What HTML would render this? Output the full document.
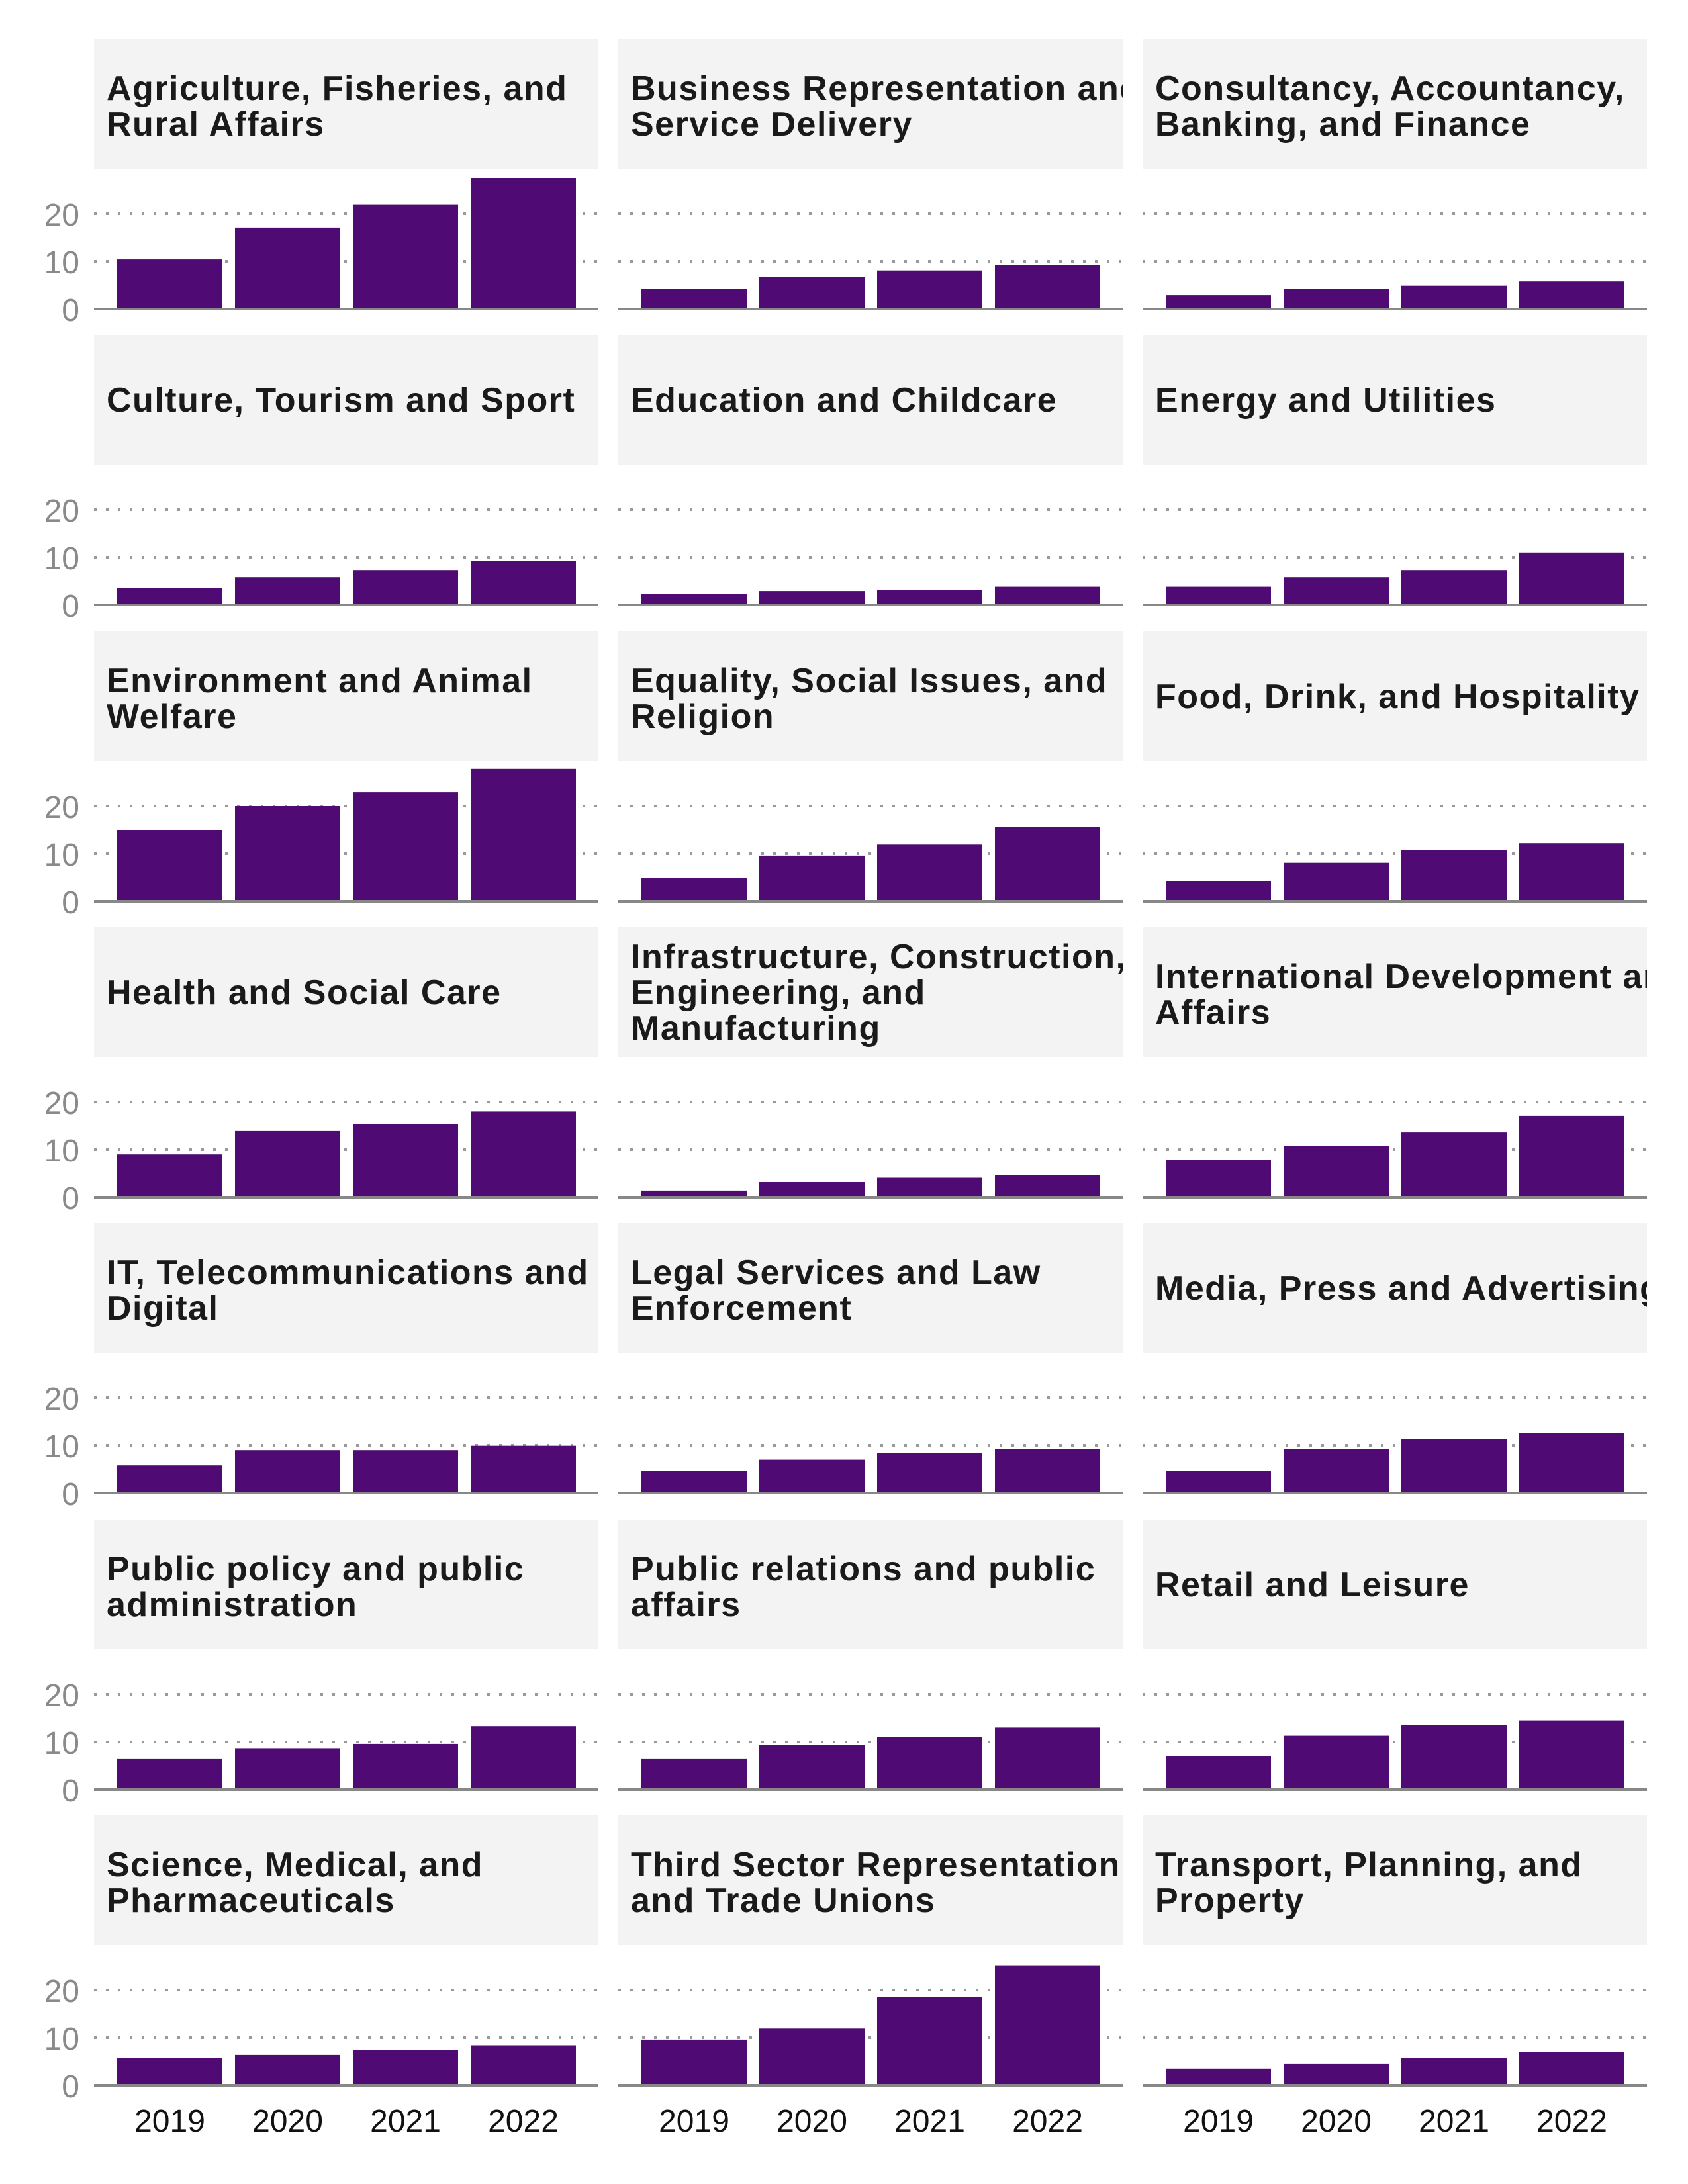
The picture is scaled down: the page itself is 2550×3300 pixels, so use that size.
<!DOCTYPE html>
<html><head><meta charset="utf-8"><style>
html,body{margin:0;padding:0;background:#fff}
svg{display:block}
.t{font-family:"Liberation Sans",sans-serif;font-weight:bold;font-size:52px;letter-spacing:1.5px;fill:#1a1a1a}
.y{font-family:"Liberation Sans",sans-serif;font-size:48px;fill:#8a8a8a;text-anchor:end}
.x{font-family:"Liberation Sans",sans-serif;font-size:48px;fill:#111;text-anchor:middle}
.s{fill:#f3f3f3}
.g{stroke:#999;stroke-width:4;stroke-dasharray:4 14}
.a{stroke:#888;stroke-width:4}
.b{fill:#500a73}
</style></head><body>
<svg width="2550" height="3300" viewBox="0 0 2550 3300" xmlns="http://www.w3.org/2000/svg">
<defs><clipPath id="c"><rect x="0" y="0" width="762" height="196"/></clipPath></defs>

<!-- Row 1 -->
<g transform="translate(142,59)">
<rect class="s" width="762" height="196"/>
<g clip-path="url(#c)"><text class="t" x="19" y="92">Agriculture, Fisheries, and</text><text class="t" x="19" y="146">Rural Affairs</text></g>
<line class="g" x1="0" x2="762" y1="264" y2="264"/><line class="g" x1="0" x2="762" y1="336" y2="336"/>
<rect class="b" x="35" width="159" y="333.1" height="74.9"/><rect class="b" x="213" width="159" y="284.9" height="123.1"/><rect class="b" x="391" width="159" y="249.6" height="158.4"/><rect class="b" x="569" width="159" y="210" height="198"/>
<line class="a" x1="0" x2="762" y1="408" y2="408"/>
<text class="y" x="-22" y="282">20</text><text class="y" x="-22" y="354">10</text><text class="y" x="-22" y="426">0</text>
</g>
<g transform="translate(934,59)">
<rect class="s" width="762" height="196"/>
<g clip-path="url(#c)"><text class="t" x="19" y="92">Business Representation and</text><text class="t" x="19" y="146">Service Delivery</text></g>
<line class="g" x1="0" x2="762" y1="264" y2="264"/><line class="g" x1="0" x2="762" y1="336" y2="336"/>
<rect class="b" x="35" width="159" y="377" height="31"/><rect class="b" x="213" width="159" y="359.8" height="48.2"/><rect class="b" x="391" width="159" y="349.7" height="58.3"/><rect class="b" x="569" width="159" y="341" height="67"/>
<line class="a" x1="0" x2="762" y1="408" y2="408"/>
</g>
<g transform="translate(1726,59)">
<rect class="s" width="762" height="196"/>
<g clip-path="url(#c)"><text class="t" x="19" y="92">Consultancy, Accountancy,</text><text class="t" x="19" y="146">Banking, and Finance</text></g>
<line class="g" x1="0" x2="762" y1="264" y2="264"/><line class="g" x1="0" x2="762" y1="336" y2="336"/>
<rect class="b" x="35" width="159" y="387.1" height="20.9"/><rect class="b" x="213" width="159" y="377" height="31"/><rect class="b" x="391" width="159" y="372.7" height="35.3"/><rect class="b" x="569" width="159" y="366.2" height="41.8"/>
<line class="a" x1="0" x2="762" y1="408" y2="408"/>
</g>

<!-- Row 2 -->
<g transform="translate(142,506)">
<rect class="s" width="762" height="196"/>
<g clip-path="url(#c)"><text class="t" x="19" y="116">Culture, Tourism and Sport</text></g>
<line class="g" x1="0" x2="762" y1="264" y2="264"/><line class="g" x1="0" x2="762" y1="336" y2="336"/>
<rect class="b" x="35" width="159" y="382.8" height="25.2"/><rect class="b" x="213" width="159" y="366.2" height="41.8"/><rect class="b" x="391" width="159" y="356.2" height="51.8"/><rect class="b" x="569" width="159" y="341" height="67"/>
<line class="a" x1="0" x2="762" y1="408" y2="408"/>
<text class="y" x="-22" y="282">20</text><text class="y" x="-22" y="354">10</text><text class="y" x="-22" y="426">0</text>
</g>
<g transform="translate(934,506)">
<rect class="s" width="762" height="196"/>
<g clip-path="url(#c)"><text class="t" x="19" y="116">Education and Childcare</text></g>
<line class="g" x1="0" x2="762" y1="264" y2="264"/><line class="g" x1="0" x2="762" y1="336" y2="336"/>
<rect class="b" x="35" width="159" y="391.4" height="16.6"/><rect class="b" x="213" width="159" y="387.1" height="20.9"/><rect class="b" x="391" width="159" y="385" height="23"/><rect class="b" x="569" width="159" y="380.6" height="27.4"/>
<line class="a" x1="0" x2="762" y1="408" y2="408"/>
</g>
<g transform="translate(1726,506)">
<rect class="s" width="762" height="196"/>
<g clip-path="url(#c)"><text class="t" x="19" y="116">Energy and Utilities</text></g>
<line class="g" x1="0" x2="762" y1="264" y2="264"/><line class="g" x1="0" x2="762" y1="336" y2="336"/>
<rect class="b" x="35" width="159" y="380.6" height="27.4"/><rect class="b" x="213" width="159" y="366.2" height="41.8"/><rect class="b" x="391" width="159" y="356.2" height="51.8"/><rect class="b" x="569" width="159" y="328.8" height="79.2"/>
<line class="a" x1="0" x2="762" y1="408" y2="408"/>
</g>

<!-- Row 3 -->
<g transform="translate(142,954)">
<rect class="s" width="762" height="196"/>
<g clip-path="url(#c)"><text class="t" x="19" y="92">Environment and Animal</text><text class="t" x="19" y="146">Welfare</text></g>
<line class="g" x1="0" x2="762" y1="264" y2="264"/><line class="g" x1="0" x2="762" y1="336" y2="336"/>
<rect class="b" x="35" width="159" y="300" height="108"/><rect class="b" x="213" width="159" y="264" height="144"/><rect class="b" x="391" width="159" y="243.1" height="164.9"/><rect class="b" x="569" width="159" y="207.8" height="200.2"/>
<line class="a" x1="0" x2="762" y1="408" y2="408"/>
<text class="y" x="-22" y="282">20</text><text class="y" x="-22" y="354">10</text><text class="y" x="-22" y="426">0</text>
</g>
<g transform="translate(934,954)">
<rect class="s" width="762" height="196"/>
<g clip-path="url(#c)"><text class="t" x="19" y="92">Equality, Social Issues, and</text><text class="t" x="19" y="146">Religion</text></g>
<line class="g" x1="0" x2="762" y1="264" y2="264"/><line class="g" x1="0" x2="762" y1="336" y2="336"/>
<rect class="b" x="35" width="159" y="372.7" height="35.3"/><rect class="b" x="213" width="159" y="338.9" height="69.1"/><rect class="b" x="391" width="159" y="322.3" height="85.7"/><rect class="b" x="569" width="159" y="295" height="113"/>
<line class="a" x1="0" x2="762" y1="408" y2="408"/>
</g>
<g transform="translate(1726,954)">
<rect class="s" width="762" height="196"/>
<g clip-path="url(#c)"><text class="t" x="19" y="116">Food, Drink, and Hospitality</text></g>
<line class="g" x1="0" x2="762" y1="264" y2="264"/><line class="g" x1="0" x2="762" y1="336" y2="336"/>
<rect class="b" x="35" width="159" y="377" height="31"/><rect class="b" x="213" width="159" y="349.7" height="58.3"/><rect class="b" x="391" width="159" y="331" height="77"/><rect class="b" x="569" width="159" y="320.2" height="87.8"/>
<line class="a" x1="0" x2="762" y1="408" y2="408"/>
</g>

<!-- Row 4 -->
<g transform="translate(142,1401)">
<rect class="s" width="762" height="196"/>
<g clip-path="url(#c)"><text class="t" x="19" y="116">Health and Social Care</text></g>
<line class="g" x1="0" x2="762" y1="264" y2="264"/><line class="g" x1="0" x2="762" y1="336" y2="336"/>
<rect class="b" x="35" width="159" y="343.2" height="64.8"/><rect class="b" x="213" width="159" y="307.9" height="100.1"/><rect class="b" x="391" width="159" y="297.1" height="110.9"/><rect class="b" x="569" width="159" y="278.4" height="129.6"/>
<line class="a" x1="0" x2="762" y1="408" y2="408"/>
<text class="y" x="-22" y="282">20</text><text class="y" x="-22" y="354">10</text><text class="y" x="-22" y="426">0</text>
</g>
<g transform="translate(934,1401)">
<rect class="s" width="762" height="196"/>
<g clip-path="url(#c)"><text class="t" x="19" y="62">Infrastructure, Construction,</text><text class="t" x="19" y="116">Engineering, and</text><text class="t" x="19" y="170">Manufacturing</text></g>
<line class="g" x1="0" x2="762" y1="264" y2="264"/><line class="g" x1="0" x2="762" y1="336" y2="336"/>
<rect class="b" x="35" width="159" y="397.9" height="10.1"/><rect class="b" x="213" width="159" y="385" height="23"/><rect class="b" x="391" width="159" y="378.5" height="29.5"/><rect class="b" x="569" width="159" y="374.9" height="33.1"/>
<line class="a" x1="0" x2="762" y1="408" y2="408"/>
</g>
<g transform="translate(1726,1401)">
<rect class="s" width="762" height="196"/>
<g clip-path="url(#c)"><text class="t" x="19" y="92">International Development and</text><text class="t" x="19" y="146">Affairs</text></g>
<line class="g" x1="0" x2="762" y1="264" y2="264"/><line class="g" x1="0" x2="762" y1="336" y2="336"/>
<rect class="b" x="35" width="159" y="351.8" height="56.2"/><rect class="b" x="213" width="159" y="331" height="77"/><rect class="b" x="391" width="159" y="310.1" height="97.9"/><rect class="b" x="569" width="159" y="284.9" height="123.1"/>
<line class="a" x1="0" x2="762" y1="408" y2="408"/>
</g>

<!-- Row 5 -->
<g transform="translate(142,1848)">
<rect class="s" width="762" height="196"/>
<g clip-path="url(#c)"><text class="t" x="19" y="92">IT, Telecommunications and</text><text class="t" x="19" y="146">Digital</text></g>
<line class="g" x1="0" x2="762" y1="264" y2="264"/><line class="g" x1="0" x2="762" y1="336" y2="336"/>
<rect class="b" x="35" width="159" y="366.2" height="41.8"/><rect class="b" x="213" width="159" y="343.2" height="64.8"/><rect class="b" x="391" width="159" y="343.2" height="64.8"/><rect class="b" x="569" width="159" y="336.7" height="71.3"/>
<line class="a" x1="0" x2="762" y1="408" y2="408"/>
<text class="y" x="-22" y="282">20</text><text class="y" x="-22" y="354">10</text><text class="y" x="-22" y="426">0</text>
</g>
<g transform="translate(934,1848)">
<rect class="s" width="762" height="196"/>
<g clip-path="url(#c)"><text class="t" x="19" y="92">Legal Services and Law</text><text class="t" x="19" y="146">Enforcement</text></g>
<line class="g" x1="0" x2="762" y1="264" y2="264"/><line class="g" x1="0" x2="762" y1="336" y2="336"/>
<rect class="b" x="35" width="159" y="374.9" height="33.1"/><rect class="b" x="213" width="159" y="357.6" height="50.4"/><rect class="b" x="391" width="159" y="347.5" height="60.5"/><rect class="b" x="569" width="159" y="341" height="67"/>
<line class="a" x1="0" x2="762" y1="408" y2="408"/>
</g>
<g transform="translate(1726,1848)">
<rect class="s" width="762" height="196"/>
<g clip-path="url(#c)"><text class="t" x="19" y="116">Media, Press and Advertising</text></g>
<line class="g" x1="0" x2="762" y1="264" y2="264"/><line class="g" x1="0" x2="762" y1="336" y2="336"/>
<rect class="b" x="35" width="159" y="374.9" height="33.1"/><rect class="b" x="213" width="159" y="341" height="67"/><rect class="b" x="391" width="159" y="326.6" height="81.4"/><rect class="b" x="569" width="159" y="318" height="90"/>
<line class="a" x1="0" x2="762" y1="408" y2="408"/>
</g>

<!-- Row 6 -->
<g transform="translate(142,2296)">
<rect class="s" width="762" height="196"/>
<g clip-path="url(#c)"><text class="t" x="19" y="92">Public policy and public</text><text class="t" x="19" y="146">administration</text></g>
<line class="g" x1="0" x2="762" y1="264" y2="264"/><line class="g" x1="0" x2="762" y1="336" y2="336"/>
<rect class="b" x="35" width="159" y="361.9" height="46.1"/><rect class="b" x="213" width="159" y="345.4" height="62.6"/><rect class="b" x="391" width="159" y="338.9" height="69.1"/><rect class="b" x="569" width="159" y="312.2" height="95.8"/>
<line class="a" x1="0" x2="762" y1="408" y2="408"/>
<text class="y" x="-22" y="282">20</text><text class="y" x="-22" y="354">10</text><text class="y" x="-22" y="426">0</text>
</g>
<g transform="translate(934,2296)">
<rect class="s" width="762" height="196"/>
<g clip-path="url(#c)"><text class="t" x="19" y="92">Public relations and public</text><text class="t" x="19" y="146">affairs</text></g>
<line class="g" x1="0" x2="762" y1="264" y2="264"/><line class="g" x1="0" x2="762" y1="336" y2="336"/>
<rect class="b" x="35" width="159" y="361.9" height="46.1"/><rect class="b" x="213" width="159" y="341" height="67"/><rect class="b" x="391" width="159" y="328.8" height="79.2"/><rect class="b" x="569" width="159" y="314.4" height="93.6"/>
<line class="a" x1="0" x2="762" y1="408" y2="408"/>
</g>
<g transform="translate(1726,2296)">
<rect class="s" width="762" height="196"/>
<g clip-path="url(#c)"><text class="t" x="19" y="116">Retail and Leisure</text></g>
<line class="g" x1="0" x2="762" y1="264" y2="264"/><line class="g" x1="0" x2="762" y1="336" y2="336"/>
<rect class="b" x="35" width="159" y="357.6" height="50.4"/><rect class="b" x="213" width="159" y="326.6" height="81.4"/><rect class="b" x="391" width="159" y="310.1" height="97.9"/><rect class="b" x="569" width="159" y="303.6" height="104.4"/>
<line class="a" x1="0" x2="762" y1="408" y2="408"/>
</g>

<!-- Row 7 -->
<g transform="translate(142,2743)">
<rect class="s" width="762" height="196"/>
<g clip-path="url(#c)"><text class="t" x="19" y="92">Science, Medical, and</text><text class="t" x="19" y="146">Pharmaceuticals</text></g>
<line class="g" x1="0" x2="762" y1="264" y2="264"/><line class="g" x1="0" x2="762" y1="336" y2="336"/>
<rect class="b" x="35" width="159" y="366.2" height="41.8"/><rect class="b" x="213" width="159" y="361.9" height="46.1"/><rect class="b" x="391" width="159" y="354" height="54"/><rect class="b" x="569" width="159" y="347.5" height="60.5"/>
<line class="a" x1="0" x2="762" y1="408" y2="408"/>
<text class="y" x="-22" y="282">20</text><text class="y" x="-22" y="354">10</text><text class="y" x="-22" y="426">0</text>
<text class="x" x="114.5" y="478">2019</text><text class="x" x="292.5" y="478">2020</text><text class="x" x="470.5" y="478">2021</text><text class="x" x="648.5" y="478">2022</text>
</g>
<g transform="translate(934,2743)">
<rect class="s" width="762" height="196"/>
<g clip-path="url(#c)"><text class="t" x="19" y="92">Third Sector Representation</text><text class="t" x="19" y="146">and Trade Unions</text></g>
<line class="g" x1="0" x2="762" y1="264" y2="264"/><line class="g" x1="0" x2="762" y1="336" y2="336"/>
<rect class="b" x="35" width="159" y="338.9" height="69.1"/><rect class="b" x="213" width="159" y="322.3" height="85.7"/><rect class="b" x="391" width="159" y="274.1" height="133.9"/><rect class="b" x="569" width="159" y="226.6" height="181.4"/>
<line class="a" x1="0" x2="762" y1="408" y2="408"/>
<text class="x" x="114.5" y="478">2019</text><text class="x" x="292.5" y="478">2020</text><text class="x" x="470.5" y="478">2021</text><text class="x" x="648.5" y="478">2022</text>
</g>
<g transform="translate(1726,2743)">
<rect class="s" width="762" height="196"/>
<g clip-path="url(#c)"><text class="t" x="19" y="92">Transport, Planning, and</text><text class="t" x="19" y="146">Property</text></g>
<line class="g" x1="0" x2="762" y1="264" y2="264"/><line class="g" x1="0" x2="762" y1="336" y2="336"/>
<rect class="b" x="35" width="159" y="382.8" height="25.2"/><rect class="b" x="213" width="159" y="374.9" height="33.1"/><rect class="b" x="391" width="159" y="366.2" height="41.8"/><rect class="b" x="569" width="159" y="357.6" height="50.4"/>
<line class="a" x1="0" x2="762" y1="408" y2="408"/>
<text class="x" x="114.5" y="478">2019</text><text class="x" x="292.5" y="478">2020</text><text class="x" x="470.5" y="478">2021</text><text class="x" x="648.5" y="478">2022</text>
</g>
</svg>
</body></html>
